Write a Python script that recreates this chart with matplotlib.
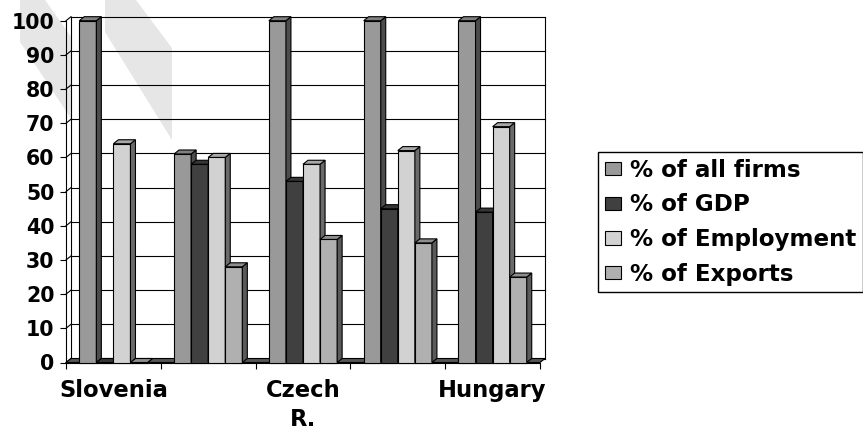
import numpy as np
import matplotlib
matplotlib.use('Agg')
import matplotlib.pyplot as plt
from matplotlib.patches import Polygon, Patch

plt.rcParams['font.family'] = ['DejaVu Sans']
plt.rcParams['font.weight'] = 'bold'

# data (5 country groups, only every other one labelled)
countries = ['Slovenia', '', 'Czech\nR.', '', 'Hungary']
series = ['% of all firms', '% of GDP', '% of Employment', '% of Exports']
all_firms = [100, 61, 100, 100, 100]
gdp = [0, 58, 53, 45, 44]
employment = [64, 60, 58, 62, 69]
exports = [0, 28, 36, 35, 25]
yticks = list(range(0, 101, 10))

values = [all_firms, gdp, employment, exports]
front = ['#999999', '#404040', '#d2d2d2', '#b0b0b0']
side = ['#4c4c4c', '#2c2c2c', '#6a6a6a', '#5a5a5a']
top = ['#808080', '#363636', '#a8a8a8', '#8e8e8e']

fig = plt.figure(figsize=(8.63, 4.33), dpi=100)

# faint watermark stripes behind the chart (figure pixel coords, y from top)
W, H = 863.0, 433.0
for pts in ([(20, 0), (45, 0), (72, 38), (72, 120), (20, 42)],
            [(105, 0), (136, 0), (172, 48), (172, 140), (105, 32)]):
    fig.patches.append(Polygon([(x / W, 1 - y / H) for x, y in pts], closed=True,
                               transform=fig.transFigure, facecolor='#e6e6e6',
                               edgecolor='none', zorder=-5))

ax = fig.add_axes([66 / W, 70.5 / H, 474 / W, 341.8 / H])
ax.set_zorder(2)
ax.patch.set_alpha(0)
n = len(countries)
ax.set_xlim(0, n)
ax.set_ylim(0, 100)

# depth of the 3d effect in data units
dx = 5 * n / 474.0
dy = 4 * 100 / 341.8
lw = 0.8

# walls and gridlines
for t in yticks:
    ax.plot([dx, n + dx], [t + dy, t + dy], color='black', lw=lw, zorder=1, clip_on=False)
    ax.plot([0, dx], [t, t + dy], color='black', lw=lw, zorder=1, clip_on=False)
ax.plot([dx, dx], [dy, 100 + dy], color='black', lw=lw, zorder=1, clip_on=False)
ax.plot([n + dx, n + dx], [dy, 100 + dy], color='black', lw=lw, zorder=1, clip_on=False)

# floor slab
ax.add_patch(Polygon([(0, 0), (n, 0), (n + dx, dy), (dx, dy)], closed=True,
                     facecolor='#555555', edgecolor='black', lw=lw, zorder=2,
                     clip_on=False))

w = 0.18
off = (1 - 4 * w) / 2
z = 3
for i in range(n):
    for k in range(4):
        v = values[k][i]
        x0 = i + off + k * w
        ax.bar(x0, v, width=w, align='edge', color=front[k], edgecolor='black',
               lw=lw, zorder=z, clip_on=False)
        ax.add_patch(Polygon([(x0 + w, 0), (x0 + w + dx, dy), (x0 + w + dx, v + dy),
                              (x0 + w, v)], closed=True, facecolor=side[k],
                             edgecolor='black', lw=lw, zorder=z, clip_on=False))
        ax.add_patch(Polygon([(x0, v), (x0 + dx, v + dy), (x0 + w + dx, v + dy),
                              (x0 + w, v)], closed=True, facecolor=top[k],
                             edgecolor='black', lw=lw, zorder=z, clip_on=False))
        z += 1

for s in ['top', 'right']:
    ax.spines[s].set_visible(False)
for s in ['left', 'bottom']:
    ax.spines[s].set_linewidth(lw)
    ax.spines[s].set_zorder(1)

ax.set_yticks(yticks)
ax.set_yticklabels([str(t) for t in yticks], fontsize=14.8, fontweight='bold')
ax.tick_params(axis='y', length=4.3, width=lw, pad=4)

ax.set_xticks(range(n + 1))
ax.set_xticklabels([])
ax.tick_params(axis='x', which='major', length=4.3, width=lw)
ax.set_xticks(np.arange(n) + 0.5, minor=True)
ax.set_xticklabels(countries, minor=True, fontsize=16.3, fontweight='bold',
                   linespacing=1.35)
ax.tick_params(axis='x', which='minor', length=0, pad=12)

handles = [Patch(facecolor=c, edgecolor='black', lw=lw) for c in front]
fig.legend(handles, series, loc='upper left', bbox_to_anchor=(598 / W, 1 - 152 / H),
           borderaxespad=0, frameon=True, fancybox=False, edgecolor='black',
           framealpha=1, prop={'size': 16.6, 'weight': 'bold'},
           handlelength=0.7, handleheight=0.52, handletextpad=0.39,
           labelspacing=0.5, borderpad=0.3)

fig.savefig('out.png', dpi=100)
